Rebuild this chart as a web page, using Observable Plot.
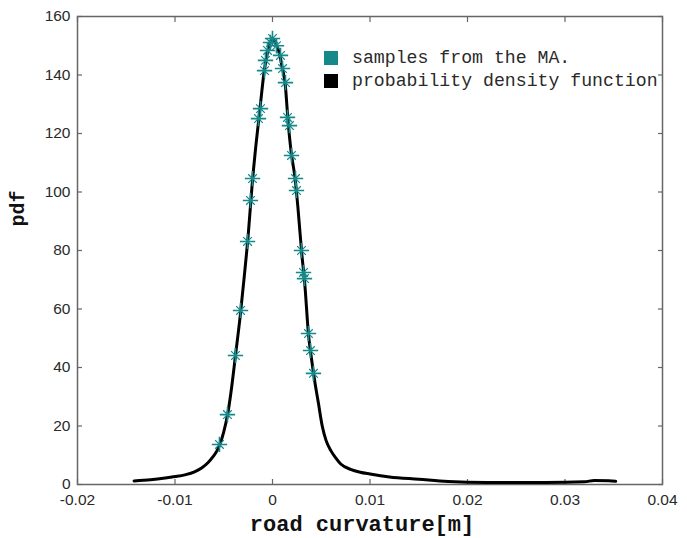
<!DOCTYPE html>
<html>
<head>
<meta charset="utf-8">
<script src="https://cdn.jsdelivr.net/npm/d3@7"></script>
<script src="https://cdn.jsdelivr.net/npm/@observablehq/plot@0.6"></script>
<style>
  html, body { margin: 0; padding: 0; background: #fff; }
  #wrap { position: relative; width: 687px; height: 538px; }
  .leg { position: absolute; font-family: "Liberation Mono", "DejaVu Sans Mono", monospace; font-size: 18.2px; color: #2a2a2a; white-space: nowrap; line-height: 18px; }
  .sw { position: absolute; width: 14px; height: 14px; }
</style>
</head>
<body>
<div id="wrap"></div>
<script>
// ---- data ----
const xTicks = [-0.02, -0.01, 0, 0.01, 0.02, 0.03, 0.04];
const xTickLabels = ["-0.02", "-0.01", "0", "0.01", "0.02", "0.03", "0.04"];
const yTicks = [0, 20, 40, 60, 80, 100, 120, 140, 160];
const yTickLabels = ["0", "20", "40", "60", "80", "100", "120", "140", "160"];

// probability density function (black curve)
const curveX = [-0.0142, -0.0125, -0.0110, -0.0100, -0.0090, -0.0080, -0.0072, -0.0066, -0.0061, -0.0057,
  -0.0054, -0.0050, -0.0046, -0.0042, -0.0038, -0.0033, -0.0029, -0.0025, -0.0021, -0.0017,
  -0.0013, -0.0009, -0.0005, -0.0002, 0.0000, 0.0003, 0.0007, 0.0010, 0.0013, 0.0016,
  0.0019, 0.0023, 0.0026, 0.0030, 0.0033, 0.0037, 0.0040, 0.0043, 0.0047, 0.0051,
  0.0055, 0.0060, 0.0065, 0.0070, 0.0080, 0.0090, 0.0100, 0.0120, 0.0150, 0.0180,
  0.0220, 0.0280, 0.0320, 0.0330, 0.0345, 0.0352];
const curveY = [1.2, 1.6, 2.2, 2.7, 3.3, 4.3, 5.8, 7.5, 9.5, 11.5,
  13.7, 18, 24, 33, 44, 58, 71, 85, 102, 116,
  128, 140, 148, 151.5, 152.5, 151, 147.5, 142.5, 137, 124,
  114, 105, 95, 79, 69, 51, 43, 36, 28, 20,
  15, 11.5, 9, 7, 5.2, 4.2, 3.6, 2.6, 1.8, 1.0,
  0.7, 0.7, 0.9, 1.4, 1.3, 1.1];

// samples from the MA (teal asterisks)
const sampleX = [-0.00544, -0.00462, -0.0038, -0.00328, -0.00256, -0.00226, -0.00205, -0.00144, -0.00123,
  -0.00082, -0.00072, -0.00051, -0.00021, 0.0000, 0.00041, 0.00082, 0.00103, 0.00133, 0.00154,
  0.00174, 0.00195, 0.00236, 0.00246, 0.00297, 0.00318, 0.00328, 0.00369, 0.0039, 0.0042];
const sampleY = [13.7, 23.9, 44.1, 59.5, 83.1, 97.1, 104.6, 125.1, 128.5,
  141.5, 145, 148.4, 151.1, 152.5, 150, 146.7, 142.2, 137.4, 125.5,
  122.7, 112.5, 104.6, 100.5, 80, 72.5, 70.4, 51.6, 45.8, 38];

const legendLabels = ["samples from the MA.", "probability density function"];
const legendColors = ["#15898a", "#000000"];

const curve = curveX.map((x, i) => ({x, y: curveY[i]}));
const samples = sampleX.map((x, i) => ({x, y: sampleY[i]}));

const axisColor = "#666";
const teal = legendColors[0];

const plot = Plot.plot({
  width: 687,
  height: 538,
  marginLeft: 77,
  marginRight: 25,
  marginTop: 16,
  marginBottom: 54,
  style: {fontFamily: "'Liberation Sans', Arial, sans-serif", fontSize: "15.5px", color: "#2a2a2a", background: "#fff"},
  x: {domain: [-0.02, 0.04], label: null},
  y: {domain: [0, 160], label: null},
  marks: [
    Plot.frame({stroke: axisColor, strokeWidth: 1.5}),
    Plot.axisX(xTicks, {anchor: "bottom", tickSize: -5, tickPadding: 14, stroke: axisColor, strokeWidth: 1.2,
      tickFormat: d => xTickLabels[xTicks.indexOf(d)], label: null}),
    Plot.axisX(xTicks, {anchor: "top", tickSize: -5, stroke: axisColor, strokeWidth: 1.2, tickFormat: () => "", label: null}),
    Plot.axisY(yTicks, {anchor: "left", tickSize: -5, tickPadding: 12, stroke: axisColor, strokeWidth: 1.2,
      tickFormat: d => yTickLabels[yTicks.indexOf(d)], label: null}),
    Plot.axisY(yTicks, {anchor: "right", tickSize: -5, stroke: axisColor, strokeWidth: 1.2, tickFormat: () => "", label: null}),
    Plot.line(curve, {x: "x", y: "y", stroke: "#000", strokeWidth: 3, curve: "monotone-x"}),
    Plot.dot(samples, {x: "x", y: "y", symbol: "plus", r: 5, stroke: teal, strokeWidth: 1.6}),
    Plot.dot(samples, {x: "x", y: "y", symbol: "times", r: 4, stroke: teal, strokeWidth: 1.2}),
    Plot.text(["road curvature[m]"], {frameAnchor: "bottom", dy: 39, dx: -8, lineAnchor: "middle",
      fontFamily: "'Liberation Mono', monospace", fontWeight: "bold", fontSize: 22, fill: "#111"}),
    Plot.text(["pdf"], {frameAnchor: "left", dx: -60, dy: -24, rotate: -90, lineAnchor: "middle",
      fontFamily: "'Liberation Mono', monospace", fontWeight: "bold", fontSize: 20, fill: "#111"})
  ]
});

const wrap = document.getElementById("wrap");
wrap.appendChild(plot);

// legend (inside the plot area, top right)
legendLabels.forEach((lab, i) => {
  const sw = document.createElement("div");
  sw.className = "sw";
  sw.style.left = "324px";
  sw.style.top = (51 + i * 23) + "px";
  sw.style.background = legendColors[i];
  wrap.appendChild(sw);
  const t = document.createElement("div");
  t.className = "leg";
  t.style.left = "352px";
  t.style.top = (49 + i * 23) + "px";
  t.textContent = lab;
  wrap.appendChild(t);
});
</script>
</body>
</html>
